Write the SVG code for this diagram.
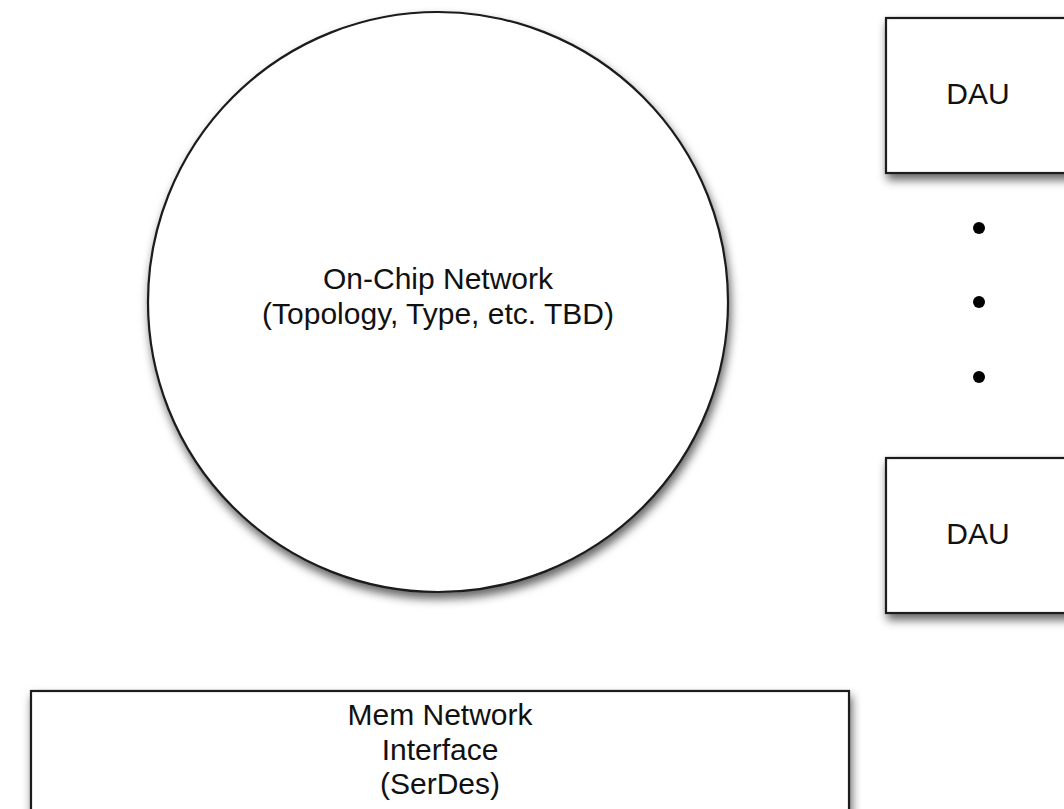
<svg xmlns="http://www.w3.org/2000/svg" width="1064" height="809" viewBox="0 0 1064 809">
<defs>
<filter id="sh" x="-10%" y="-10%" width="125%" height="130%">
<feDropShadow dx="2" dy="6" stdDeviation="5" flood-color="#000" flood-opacity="0.6"/>
</filter>
</defs>
<style>
.shape{fill:#fff;stroke:#1a1a1a;stroke-width:2.2;filter:url(#sh)}
.t{font-family:"Liberation Sans",Arial,Helvetica,sans-serif;font-size:30px;fill:#111;text-anchor:middle}
.dot{fill:#000}
</style>
<rect width="1064" height="809" fill="#fff"/>
<g id="network">
<circle class="shape" cx="438" cy="302" r="290"/>
<text class="t" x="438" y="289">On-Chip Network</text>
<text class="t" x="438" y="324">(Topology, Type, etc. TBD)</text>
</g>
<g id="dau1">
<rect class="shape" x="886" y="18" width="190" height="155"/>
<text class="t" x="978" y="104">DAU</text>
</g>
<g id="dots">
<circle class="dot" cx="979" cy="228" r="6"/>
<circle class="dot" cx="979" cy="302" r="6"/>
<circle class="dot" cx="979" cy="377" r="6"/>
</g>
<g id="dau2">
<rect class="shape" x="886" y="458" width="190" height="155"/>
<text class="t" x="978" y="544">DAU</text>
</g>
<g id="mem">
<rect class="shape" x="31" y="691" width="818" height="140"/>
<text class="t" x="440" y="725">Mem Network</text>
<text class="t" x="440" y="760">Interface</text>
<text class="t" x="440" y="794">(SerDes)</text>
</g>
<g id="connectors"></g>
</svg>
